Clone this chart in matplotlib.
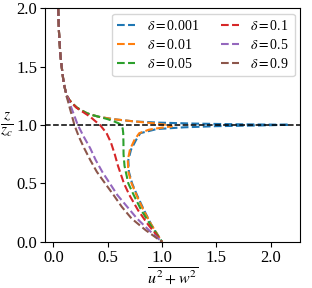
import numpy as np
import matplotlib
matplotlib.use("Agg")
import matplotlib.pyplot as plt

plt.rcParams['font.family'] = ['Liberation Serif', 'DejaVu Serif']
plt.rcParams['mathtext.fontset'] = 'stix'

# shared upper branch (z/zc > 1.3)
z_top = [2.0, 1.8, 1.6, 1.5, 1.4, 1.35]
x_top = [0.045, 0.052, 0.065, 0.077, 0.09, 0.098]

deltas = ["0.001", "0.01", "0.05", "0.1", "0.5", "0.9"]

z_001 = [1.3, 1.25, 1.21, 1.18, 1.15, 1.13, 1.1, 1.085, 1.07, 1.05, 1.03, 1.02, 1.012, 1.006, 1.002,
         0.996, 0.99, 0.98, 0.965, 0.93, 0.87, 0.79, 0.7, 0.6, 0.5, 0.4, 0.27, 0.15, 0.0]
x_001 = [0.11, 0.125, 0.15, 0.18, 0.215, 0.25, 0.31, 0.36, 0.42, 0.55, 0.75, 0.98, 1.3, 1.7, 2.17,
         1.9, 1.5, 1.2, 0.95, 0.8, 0.76, 0.715, 0.69, 0.695, 0.725, 0.77, 0.835, 0.9, 1.0]

z_01 = [1.3, 1.25, 1.21, 1.18, 1.15, 1.13, 1.1, 1.085, 1.07, 1.05, 1.03, 1.015, 1.0, 0.988,
        0.975, 0.96, 0.93, 0.87, 0.79, 0.7, 0.6, 0.5, 0.4, 0.27, 0.15, 0.0]
x_01 = [0.11, 0.125, 0.15, 0.18, 0.215, 0.25, 0.31, 0.36, 0.42, 0.55, 0.75, 0.92, 1.05, 1.09,
        0.98, 0.88, 0.79, 0.745, 0.705, 0.685, 0.69, 0.72, 0.765, 0.83, 0.9, 1.0]

z_05 = [1.3, 1.25, 1.21, 1.18, 1.15, 1.13, 1.1, 1.085, 1.07, 1.05, 1.03, 1.015, 1.0, 0.97, 0.93,
        0.85, 0.75, 0.65, 0.5, 0.4, 0.27, 0.15, 0.0]
x_05 = [0.11, 0.125, 0.15, 0.18, 0.215, 0.25, 0.31, 0.36, 0.42, 0.5, 0.56, 0.6, 0.625, 0.638, 0.643,
        0.645, 0.646, 0.655, 0.69, 0.74, 0.81, 0.89, 1.0]

z_1 = [1.3, 1.25, 1.21, 1.18, 1.15, 1.13, 1.11, 1.07, 1.03, 1.0, 0.93, 0.85, 0.75, 0.65,
       0.5, 0.4, 0.27, 0.15, 0.0]
x_1 = [0.11, 0.125, 0.15, 0.18, 0.21, 0.24, 0.275, 0.34, 0.39, 0.43, 0.49, 0.53, 0.565, 0.595,
       0.65, 0.7, 0.78, 0.87, 1.0]

z_5 = [1.3, 1.25, 1.21, 1.15, 1.1, 1.0, 0.9, 0.8, 0.7, 0.6, 0.5, 0.4, 0.3, 0.2, 0.1, 0.0]
x_5 = [0.11, 0.125, 0.14, 0.165, 0.185, 0.225, 0.28, 0.34, 0.39, 0.45, 0.52, 0.59, 0.68, 0.77, 0.88, 1.0]

z_9 = [1.3, 1.25, 1.21, 1.15, 1.1, 1.0, 0.9, 0.8, 0.7, 0.6, 0.5, 0.4, 0.3, 0.2, 0.1, 0.0]
x_9 = [0.11, 0.12, 0.133, 0.15, 0.165, 0.194, 0.235, 0.285, 0.34, 0.40, 0.477, 0.555, 0.63, 0.72, 0.85, 1.0]

curves = [(x_001, z_001), (x_01, z_01), (x_05, z_05),
          (x_1, z_1), (x_5, z_5), (x_9, z_9)]

fig = plt.figure(figsize=(3.12, 2.88), dpi=100)
ax = fig.add_axes([0.144, 0.16, 0.818, 0.812])

for d, (xs, zs) in zip(deltas, curves):
    x = np.array(x_top + xs)
    z = np.array(z_top + zs)
    ax.plot(x, z, '--', lw=1.5, label=r'$\delta=$' + d)

ax.axhline(1.0, color='k', ls='--', lw=1.1)

ax.set_xlim(-0.077, 2.27)
ax.set_ylim(0, 2.0)
ax.set_xticks([0.0, 0.5, 1.0, 1.5, 2.0])
ax.set_yticks([0.0, 0.5, 1.0, 1.5, 2.0])
ax.tick_params(labelsize=12, pad=2)
ax.set_xlabel(r'$\overline{u^2+w^2}$', fontsize=11.5, labelpad=0)
ax.set_ylabel(r'$\frac{z}{z_c}$', fontsize=16, rotation=0, labelpad=7, va='center')
ax.legend(ncol=2, fontsize=10, handlelength=1.3, loc='upper right',
          labelspacing=0.35, columnspacing=1.6, borderaxespad=0.4)

fig.savefig("out.png", dpi=100)
